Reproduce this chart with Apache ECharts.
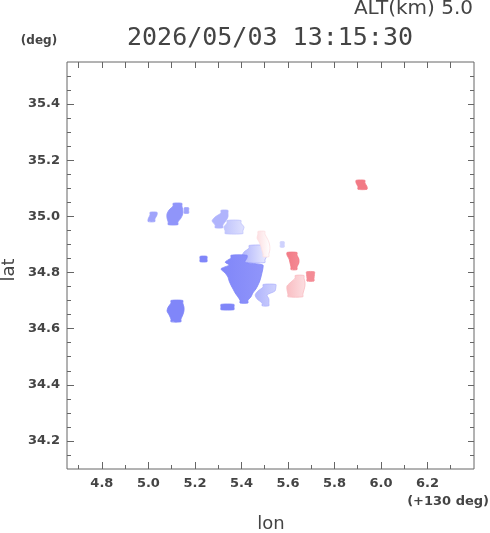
<!DOCTYPE html>
<html>
<head>
<meta charset="utf-8">
<script src="https://cdn.jsdelivr.net/npm/echarts@6/dist/echarts.min.js"></script>
<style>html,body{margin:0;padding:0;background:#fff;}#c{width:490px;height:533px;}</style>
</head>
<body>
<div id="c"></div>
<script>
// Axis ranges and tick labels
const lonRange = [4.65, 6.40];
const latRange = [34.10, 35.55];
const lonTicks = [4.8, 5.0, 5.2, 5.4, 5.6, 5.8, 6.0, 6.2];
const lonMinor = [4.7, 4.9, 5.1, 5.3, 5.5, 5.7, 5.9, 6.1, 6.3];
const latTicks = [34.2, 34.4, 34.6, 34.8, 35.0, 35.2, 35.4];
const latMinor = [34.15, 34.25, 34.3, 34.35, 34.45, 34.5, 34.55, 34.65, 34.7, 34.75,
                  34.85, 34.9, 34.95, 35.05, 35.1, 35.15, 35.25, 35.3, 35.35, 35.45, 35.5];

// Echo areas, each as scan rows: [lat, lonWest, lonEast]
const echoWest    = [[35.005, 5.011, 5.033], [34.991, 5.003, 5.024]];
const echoNW      = [[35.037, 5.110, 5.140], [35.023, 5.093, 5.144], [35.009, 5.084, 5.144], [34.994, 5.084, 5.136], [34.980, 5.089, 5.123]];
const echoNWdot   = [[35.021, 5.158, 5.169]];
const echoN1      = [[35.012, 5.316, 5.338], [34.998, 5.291, 5.338], [34.984, 5.278, 5.329], [34.969, 5.291, 5.316]];
const echoN2      = [[34.976, 5.342, 5.394], [34.962, 5.329, 5.407], [34.948, 5.334, 5.402]];
const echoCenterN = [[34.887, 5.437, 5.506], [34.873, 5.415, 5.514], [34.859, 5.407, 5.506], [34.845, 5.415, 5.497]];
const echoStreak  = [[34.937, 5.475, 5.497], [34.923, 5.471, 5.506], [34.909, 5.480, 5.514], [34.894, 5.488, 5.518], [34.880, 5.492, 5.518], [34.866, 5.497, 5.514]];
const echoWdot    = [[34.848, 5.226, 5.248]];
const echoMain    = [[34.852, 5.359, 5.420], [34.837, 5.334, 5.411], [34.827, 5.351, 5.488], [34.813, 5.316, 5.488],
                     [34.798, 5.334, 5.484], [34.784, 5.346, 5.480], [34.770, 5.351, 5.475], [34.755, 5.359, 5.467],
                     [34.741, 5.368, 5.458], [34.727, 5.377, 5.445], [34.713, 5.389, 5.437], [34.701, 5.398, 5.424]];
const echoMainS   = [[34.677, 5.316, 5.364]];
const echoSE      = [[34.748, 5.497, 5.544], [34.734, 5.475, 5.540], [34.720, 5.463, 5.506], [34.706, 5.471, 5.514], [34.691, 5.493, 5.514]];
const echoSW      = [[34.691, 5.101, 5.144], [34.677, 5.089, 5.149], [34.663, 5.084, 5.149], [34.649, 5.093, 5.144], [34.634, 5.101, 5.136]];
const echoRed     = [[34.862, 5.600, 5.635], [34.848, 5.609, 5.643], [34.834, 5.613, 5.643], [34.820, 5.617, 5.635]];
const echoTiny    = [[34.900, 5.571, 5.580]];
const echoRedDot  = [[34.793, 5.684, 5.710], [34.779, 5.686, 5.708]];
const echoPink    = [[34.780, 5.635, 5.665], [34.766, 5.617, 5.669], [34.752, 5.600, 5.669], [34.738, 5.600, 5.665], [34.723, 5.604, 5.660]];
const echoFarNE   = [[35.119, 5.897, 5.927], [35.106, 5.905, 5.936]];

// Value at west / east side of each area (blue negative, red positive)
const echoAreas = [echoWest, echoNW, echoNWdot, echoN1, echoN2, echoCenterN, echoStreak, echoWdot, echoMain, echoMainS,
                   echoSE, echoSW, echoRed, echoTiny, echoRedDot, echoPink, echoFarNE];
const valWest = [-6, -7, -6, -5, -4, -5, 2, -8, -8, -8, -5, -8, 8, -3, 7, 4, 8];
const valEast = [-6, -7, -6, -5, -2, -1, 0, -8, -7, -8, -3, -8, 7, -3, 7, 2, 8];

const ROW_H = 0.019;    // drawn row height (deg lat)
const PAD_LON = 0.004;  // drawn edge padding (deg lon)
const STOPS = [[-10, [96, 104, 248]], [0, [255, 255, 255]], [10, [239, 89, 103]]];
function colorOf(v) {
  v = Math.max(-10, Math.min(10, v));
  const a = v <= 0 ? STOPS[0] : STOPS[1], b = v <= 0 ? STOPS[1] : STOPS[2];
  const t = (v - a[0]) / (b[0] - a[0]);
  const c = a[1].map((x, i) => Math.round(x + (b[1][i] - x) * t));
  return 'rgb(' + c.join(',') + ')';
}

const TXT = '#444';
const LBL = { fontFamily: 'DejaVu Sans', fontWeight: 'bold', fontSize: 13, color: TXT };

function xAx(pos, ticks, len, labels) {
  return {
    type: 'value', position: pos, min: lonRange[0], max: lonRange[1],
    axisLine: { show: false }, splitLine: { show: false },
    axisTick: { show: true, inside: true, length: len, customValues: ticks, lineStyle: { color: '#666', width: 1 } },
    axisLabel: labels ? Object.assign({ show: true, margin: 8, customValues: ticks, formatter: v => v.toFixed(1) }, LBL) : { show: false }
  };
}
function yAx(pos, ticks, len, labels) {
  return {
    type: 'value', position: pos, min: latRange[0], max: latRange[1],
    axisLine: { show: false }, splitLine: { show: false },
    axisTick: { show: true, inside: true, length: len, customValues: ticks, lineStyle: { color: '#666', width: 1 } },
    axisLabel: labels ? Object.assign({ show: true, margin: 7, customValues: ticks, formatter: v => v.toFixed(1) }, LBL) : { show: false }
  };
}

const seriesData = echoAreas.map((rows, i) => [rows[0][1], rows[0][0], i]);

const chart = echarts.init(document.getElementById('c'), null, { renderer: 'canvas' });
chart.setOption({
  animation: false,
  backgroundColor: '#fff',
  grid: { left: 67, top: 62, width: 407, height: 407, show: true, borderColor: '#666', borderWidth: 1, backgroundColor: '#fff' },
  xAxis: [xAx('bottom', lonTicks, 7, true), xAx('bottom', lonMinor, 4, false), xAx('top', lonTicks, 6, false), xAx('top', lonMinor, 6, false)],
  yAxis: [yAx('left', latTicks, 7, true), yAx('left', latMinor, 4, false), yAx('right', latTicks, 6, false), yAx('right', latMinor, 4, false)],
  series: [{
    type: 'custom',
    xAxisIndex: 0, yAxisIndex: 0,
    clip: true,
    data: seriesData,
    encode: { x: 0, y: 1 },
    renderItem: function (params, api) {
      const idx = api.value(2);
      const rows = echoAreas[idx];
      const half = ROW_H / 2;
      const left = [], right = [];
      rows.forEach((r, k) => {
        const w = r[1] - PAD_LON, e = r[2] + PAD_LON;
        if (k === 0) { left.push(api.coord([w, r[0] + half])); right.push(api.coord([e, r[0] + half])); }
        left.push(api.coord([w, r[0]]));
        right.push(api.coord([e, r[0]]));
        if (k === rows.length - 1) { left.push(api.coord([w, r[0] - half])); right.push(api.coord([e, r[0] - half])); }
      });
      const pts = left.concat(right.reverse());
      const c0 = colorOf(valWest[idx]), c1 = colorOf(valEast[idx]);
      const fill = new echarts.graphic.LinearGradient(0, 0, 1, 0, [{ offset: 0, color: c0 }, { offset: 1, color: c1 }]);
      return {
        type: 'polygon',
        shape: { points: pts, smooth: 0.25 },
        style: { fill: fill, stroke: c0, lineWidth: 0.8 }
      };
    }
  }],
  graphic: [
    { type: 'text', x: 473, y: 9, style: { text: 'ALT(km) 5.0', font: '20px "DejaVu Sans"', fill: TXT, align: 'right', verticalAlign: 'middle' } },
    { type: 'text', x: 270, y: 38, style: { text: '2026/05/03 13:15:30', font: '25px "DejaVu Sans Mono"', fill: TXT, align: 'center', verticalAlign: 'middle' } },
    { type: 'text', x: 39, y: 41, style: { text: '(deg)', font: 'bold 12px "DejaVu Sans"', fill: TXT, align: 'center', verticalAlign: 'middle' } },
    { type: 'text', x: 489, y: 502, style: { text: '(+130 deg)', font: 'bold 13px "DejaVu Sans"', fill: TXT, align: 'right', verticalAlign: 'middle' } },
    { type: 'text', x: 271, y: 524, style: { text: 'lon', font: '18px "DejaVu Sans"', fill: TXT, align: 'center', verticalAlign: 'middle' } },
    { type: 'text', x: 9, y: 270, rotation: Math.PI / 2, style: { text: 'lat', font: '18px "DejaVu Sans"', fill: TXT, align: 'center', verticalAlign: 'middle' } }
  ]
});
</script>
</body>
</html>
